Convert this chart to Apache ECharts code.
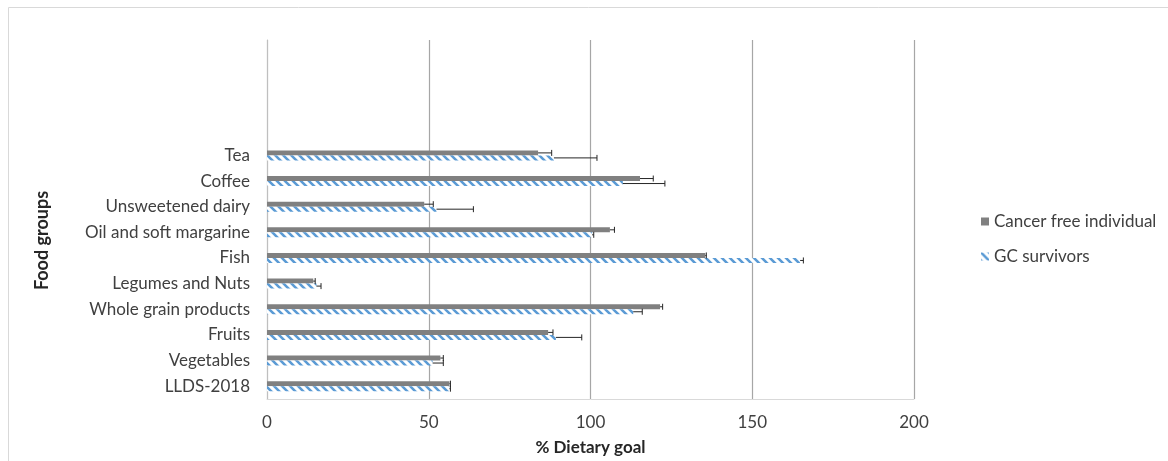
<!DOCTYPE html>
<html>
<head>
<meta charset="utf-8">
<script src="https://cdn.jsdelivr.net/npm/echarts@6/dist/echarts.min.js"></script>
<style>
  html, body { margin: 0; background: #fff; }
  #chart { width: 1168px; height: 461px; }
</style>
</head>
<body>
<div id="chart"></div>
<script>
// categories from bottom to top; the empty ones are the blank slots Excel left on top
const categories = ['LLDS-2018', 'Vegetables', 'Fruits', 'Whole grain products', 'Legumes and Nuts',
  'Fish', 'Oil and soft margarine', 'Unsweetened dairy', 'Coffee', 'Tea', '', '', '', ''];

const cancerFree    = [56.4, 53.6, 86.9, 121.5, 14.3, 135.5, 106.0, 48.6, 115.3, 83.8, null, null, null, null];
const cancerFreeErr = [0.3, 0.9, 1.5, 0.8, 0.6, 0.3, 1.4, 2.8, 4.1, 4.2, null, null, null, null];
const gcSurvivors   = [56.4, 51.2, 89.3, 113.2, 15.3, 164.8, 100.5, 52.4, 110.0, 88.7, null, null, null, null];
const gcSurvivorsErr = [0.3, 3.3, 8.0, 2.8, 1.4, 1.0, 0.5, 11.4, 13.0, 13.3, null, null, null, null];

const xTicks = [0, 50, 100, 150, 200];

// hatched blue fill (light downward diagonal)
function makeHatch() {
  const c = document.createElement('canvas');
  c.width = 8; c.height = 8;
  const g = c.getContext('2d');
  g.fillStyle = '#ffffff';
  g.fillRect(0, 0, 8, 8);
  g.strokeStyle = '#5b9bd5';
  g.lineWidth = 2.6;
  g.beginPath();
  g.moveTo(-2, -2); g.lineTo(10, 10);
  g.moveTo(-10, -2); g.lineTo(2, 10);
  g.moveTo(6, -2); g.lineTo(18, 10);
  g.stroke();
  return c;
}
const hatch = { image: makeHatch(), repeat: 'repeat' };

const BAR_W = 5;

function errData(vals, errs) {
  return vals.map((v, i) => v == null ? null : [v, i, errs[i]]);
}

function errorBars(offset) {
  return function (params, api) {
    const v = api.value(0), idx = api.value(1), e = api.value(2);
    const p0 = api.coord([v, idx]);
    const p1 = api.coord([v + e, idx]);
    const y = p0[1] + offset;
    const st = { stroke: '#262626', lineWidth: 1 };
    return {
      type: 'group',
      children: [
        { type: 'line', shape: { x1: p0[0], y1: y, x2: p1[0], y2: y }, style: st },
        { type: 'line', shape: { x1: p1[0], y1: y - 3, x2: p1[0], y2: y + 3 }, style: st }
      ]
    };
  };
}

const myChart = echarts.init(document.querySelector('#chart'));
myChart.setOption({
  textStyle: { fontFamily: 'Lato, "Open Sans", sans-serif' },
  animation: false,
  graphic: [{
    type: 'rect', silent: true,
    shape: { x: 8.5, y: 7.5, width: 1200, height: 500 },
    style: { fill: 'none', stroke: '#d9d9d9', lineWidth: 1 }
  }],
  legend: {
    orient: 'vertical',
    left: 976,
    top: 208,
    itemGap: 18,
    itemWidth: 8,
    itemHeight: 8,
    icon: 'rect',
    textStyle: { fontSize: 17, color: '#404040' },
    data: ['Cancer free individual', 'GC survivors']
  },
  grid: { left: 267, right: 254, top: 40, bottom: 61 },
  xAxis: {
    type: 'value',
    min: 0, max: 200, interval: 50,
    name: '% Dietary goal',
    nameLocation: 'middle',
    nameGap: 40,
    nameTextStyle: { fontSize: 17, fontWeight: 'bold', color: '#262626' },
    axisLine: { show: true, lineStyle: { color: '#d9d9d9' } },
    axisTick: { show: false },
    axisLabel: {
      margin: 15, fontSize: 17, color: '#404040',
      formatter: v => xTicks.includes(v) ? String(v) : ''
    },
    splitLine: { lineStyle: { color: '#a6a6a6', width: 1.2 } }
  },
  yAxis: {
    type: 'category',
    data: categories,
    name: 'Food groups',
    nameLocation: 'middle',
    nameRotate: 90,
    nameGap: 216,
    nameTextStyle: { fontSize: 18, fontWeight: 'bold', color: '#262626', padding: [0, 42, 0, 0] },
    axisLine: { show: true, lineStyle: { color: '#bfbfbf' } },
    axisTick: { show: false },
    axisLabel: { margin: 17, fontSize: 17, color: '#404040' }
  },
  series: [
    {
      name: 'Cancer free individual',
      type: 'bar',
      data: cancerFree,
      barWidth: BAR_W,
      barGap: '0%',
      itemStyle: { color: '#808080' }
    },
    {
      name: 'GC survivors',
      type: 'bar',
      data: gcSurvivors,
      barWidth: BAR_W,
      barGap: '0%',
      itemStyle: { color: hatch }
    },
    {
      type: 'custom',
      renderItem: errorBars(-BAR_W / 2),
      encode: { x: 0, y: 1 },
      data: errData(cancerFree, cancerFreeErr),
      z: 5
    },
    {
      type: 'custom',
      renderItem: errorBars(BAR_W / 2),
      encode: { x: 0, y: 1 },
      data: errData(gcSurvivors, gcSurvivorsErr),
      z: 5
    }
  ]
});
</script>
</body>
</html>
